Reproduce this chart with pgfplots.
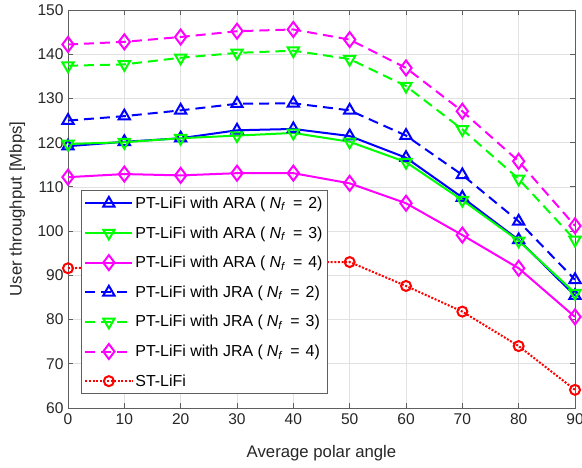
\documentclass[border=0pt]{standalone}
\usepackage{pgfplots}
\pgfplotsset{compat=1.18}
\usepackage{fontspec}
\setmainfont{Liberation Sans}
\definecolor{axgray}{RGB}{38,38,38}
\definecolor{boxgray}{RGB}{95,95,95}
\definecolor{gridgray}{RGB}{225,225,225}
\definecolor{mblue}{RGB}{0,0,255}
\definecolor{mgreen}{RGB}{0,255,0}
\definecolor{mmag}{RGB}{255,0,255}
\definecolor{mred}{RGB}{255,0,0}
\newcommand{\nf}[1]{(\hspace{4bp}\textit{N}\textsubscript{\textit{f}}\hspace{3bp} =\hspace{1.5bp} #1)\hspace{7bp}}

\begin{document}
\begin{tikzpicture}
\begin{axis}[
    name=ax,
    scale only axis,
    width=507bp, height=398bp,
    xmin=0, xmax=90, ymin=60, ymax=150,
    xtick={0,10,...,90}, ytick={60,70,...,150},
    grid=major,
    major grid style={gridgray, line width=0.6bp},
    tick align=inside,
    major tick length=5bp,
    axis line style={boxgray, line width=0.9bp},
    every tick/.style={boxgray, line width=0.9bp},
    tick label style={font=\fontsize{15.6}{18}\selectfont, text=axgray},
    /pgf/number format/assume math mode=true,
    xticklabel style={yshift=-2bp},
    yticklabel style={xshift=-1bp},
    xlabel={Average polar angle},
    ylabel={User throughput [Mbps]},
    label style={font=\fontsize{16.8}{19}\selectfont, text=axgray},
    xlabel style={at={(axis description cs:0.5,-0.113)}, anchor=center},
    ylabel style={at={(axis description cs:-0.1,0.5)}, anchor=center},
    every axis plot/.append style={line width=2bp},
    legend cell align=left,
    legend style={
        at={(axis description cs:0.0256,0.035)}, anchor=south west,
        draw=boxgray, line width=0.8bp, fill=white,
        font=\fontsize{16}{19}\selectfont, text=black,
        row sep=12.6bp, inner xsep=3bp, inner ysep=4bp,
    },
    legend image code/.code={
        \draw[#1] (0bp,0bp) -- (47bp,0bp);
        \draw[#1, mark repeat=1] plot coordinates {(23.5bp,0bp)};
    },
]
% ARA, N_f = 2
\addplot[mblue, solid, mark=triangle, mark size=6.5bp, mark options={solid}]
coordinates {(0,119.2) (10,120.2) (20,121.0) (30,122.8) (40,123.1) (50,121.5) (60,116.6) (70,107.6) (80,98.0) (90,85.4)};
\addlegendentry{PT-LiFi with ARA \nf{2}}
% ARA, N_f = 3
\addplot[mgreen, solid, mark=triangle, mark size=6.5bp, mark options={solid, rotate=180}]
coordinates {(0,119.7) (10,120.1) (20,121.0) (30,121.6) (40,122.2) (50,120.2) (60,115.6) (70,107.0) (80,97.8) (90,86.0)};
\addlegendentry{PT-LiFi with ARA \nf{3}}
% ARA, N_f = 4
\addplot[mmag, solid, mark=diamond, mark size=7.5bp, mark options={solid}]
coordinates {(0,112.2) (10,112.9) (20,112.6) (30,113.1) (40,113.1) (50,110.8) (60,106.3) (70,99.1) (80,91.6) (90,80.6)};
\addlegendentry{PT-LiFi with ARA \nf{4}}
% JRA, N_f = 2
\addplot[mblue, dash pattern=on 10bp off 6bp, mark=triangle, mark size=6.5bp, mark options={solid}]
coordinates {(0,125.0) (10,126.0) (20,127.3) (30,128.8) (40,128.9) (50,127.3) (60,121.6) (70,112.7) (80,102.2) (90,89.0)};
\addlegendentry{PT-LiFi with JRA \nf{2}}
% JRA, N_f = 3
\addplot[mgreen, dash pattern=on 10bp off 6bp, mark=triangle, mark size=6.5bp, mark options={solid, rotate=180}]
coordinates {(0,137.4) (10,137.7) (20,139.2) (30,140.3) (40,140.8) (50,138.9) (60,132.8) (70,123.0) (80,111.8) (90,98.0)};
\addlegendentry{PT-LiFi with JRA \nf{3}}
% JRA, N_f = 4
\addplot[mmag, dash pattern=on 10bp off 6bp, mark=diamond, mark size=7.5bp, mark options={solid}]
coordinates {(0,142.2) (10,142.8) (20,143.9) (30,145.2) (40,145.6) (50,143.3) (60,136.9) (70,127.1) (80,115.8) (90,101.2)};
\addlegendentry{PT-LiFi with JRA \nf{4}}
% ST-LiFi
\addplot[mred, dash pattern=on 2bp off 1.6bp, mark=o, mark size=5bp, mark options={solid}]
coordinates {(0,91.6) (10,92.0) (20,92.3) (30,92.6) (40,92.9) (50,93.0) (60,87.6) (70,81.8) (80,74.0) (90,64.1)};
\addlegendentry{ST-LiFi}
\end{axis}
\pgfresetboundingbox
\path[use as bounding box] ([xshift=-68bp,yshift=-60bp]ax.south west) rectangle ([xshift=7bp,yshift=10bp]ax.north east);
\end{tikzpicture}
\end{document}
